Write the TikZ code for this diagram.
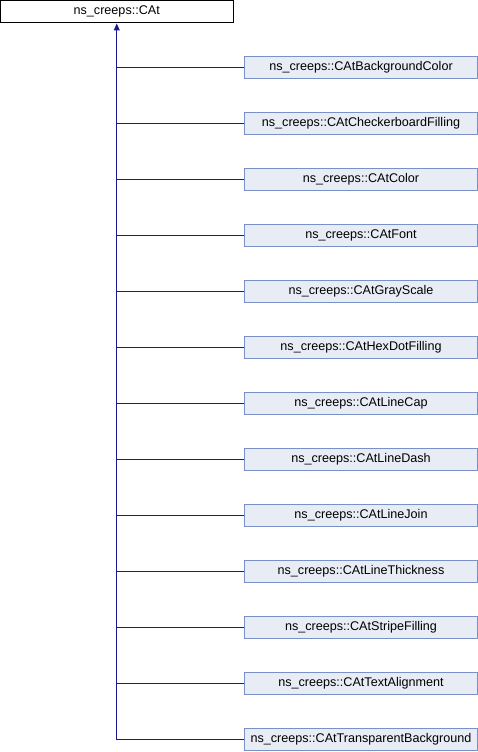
\documentclass[tikz,border=0pt]{standalone}
\usepackage{fontspec}
\setmainfont{Liberation Sans}
\usetikzlibrary{arrows.meta}
\definecolor{boxfill}{HTML}{E8ECF5}
\definecolor{boxline}{HTML}{7A90C8}
\definecolor{connblue}{HTML}{1A1A8C}
\tikzset{
  basebox/.style={draw=black, fill=white, line width=1pt, minimum width=232.5pt, minimum height=22.5pt, inner sep=0pt, font=\fontsize{12.6}{15}\selectfont, text=black},
  childbox/.style={draw=boxline, fill=boxfill, line width=1pt, minimum width=233pt, minimum height=22.5pt, inner sep=0pt, font=\fontsize{12.6}{15}\selectfont, text=black},
  conn/.style={draw=connblue, line width=1pt},
  tip/.style={-{Triangle[length=7pt,width=6pt]}}
}
\begin{document}
\begin{tikzpicture}[x=1pt,y=-1pt]
\useasboundingbox (0,0) rectangle (478,752);
\node[basebox] (top) at (116.75,11.75) {ns\_creeps::CAt};
\foreach \n [count=\i from 0] in {BackgroundColor,CheckerboardFilling,Color,Font,GrayScale,HexDotFilling,LineCap,LineDash,LineJoin,LineThickness,StripeFilling,TextAlignment,TransparentBackground}{
  \node[childbox] (c\i) at (361,67.5+56*\i) {ns\_creeps::CAt\n};
}
\draw[conn,tip] (c12.west) -| (top.south);
\foreach \i in {0,...,11}{
  \draw[conn] (c\i.west) -- (c\i.west -| top.south);
}
\end{tikzpicture}
\end{document}
